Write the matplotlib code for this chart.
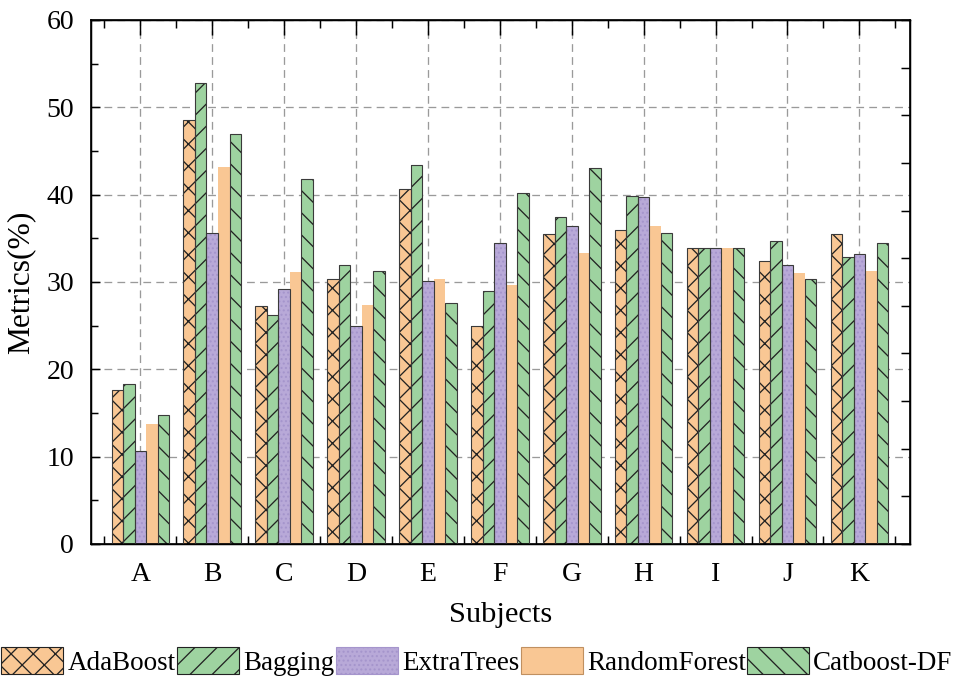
import numpy as np
import matplotlib
matplotlib.use("Agg")
import matplotlib.pyplot as plt
from matplotlib.patches import Patch
from matplotlib.ticker import MultipleLocator

plt.rcParams["font.family"] = ["Liberation Serif", "DejaVu Serif"]
plt.rcParams["hatch.linewidth"] = 0.7

# data
subjects = ["A", "B", "C", "D", "E", "F", "G", "H", "I", "J", "K"]
models = ["AdaBoost", "Bagging", "ExtraTrees", "RandomForest", "Catboost-DF"]
adaboost = [17.6, 48.5, 27.2, 30.3, 40.7, 25.0, 35.5, 36.0, 33.9, 32.4, 35.5]
bagging = [18.3, 52.8, 26.2, 31.9, 43.4, 29.0, 37.4, 39.8, 33.9, 34.7, 32.9]
extratrees = [10.6, 35.6, 29.2, 25.0, 30.1, 34.5, 36.4, 39.7, 33.9, 31.9, 33.2]
randomforest = [13.7, 43.2, 31.1, 27.4, 30.3, 29.6, 33.3, 36.4, 33.9, 31.0, 31.3]
catboost = [14.8, 46.9, 41.8, 31.2, 27.6, 40.2, 43.0, 35.6, 33.9, 30.3, 34.5]
series = [adaboost, bagging, extratrees, randomforest, catboost]

# styles
orange = "#F9C794"
green = "#9ED3A0"
purple = "#B8A9D8"
fills = [orange, green, purple, orange, green]
hatches = ["xx", "//", ".....", "", "\\\\"]
hatch_cols = ["#222222", "#222222", "#A595CC", orange, "#222222"]
outline = [True, True, True, False, True]

fig = plt.figure(figsize=(954 / 133.33, 677 / 133.33), dpi=133.33)
ax = fig.add_axes([0.0951, 0.1965, 0.9536 - 0.0951, 0.9705 - 0.1965])

x = np.arange(1, len(subjects) + 1)
w = 0.16
for i, vals in enumerate(series):
    xi = x + (i - 2) * w
    ax.bar(xi, vals, w, color=fills[i], edgecolor=hatch_cols[i],
           hatch=hatches[i], linewidth=0, zorder=2)
    if outline[i]:
        ax.bar(xi, vals, w, fill=False, edgecolor="#3a3a3a",
               linewidth=0.6, zorder=3)

ax.set_xlim(0.31, 11.7)
ax.set_ylim(0, 60)
ax.set_xticks(x)
ax.set_xticklabels(subjects)
ax.xaxis.set_minor_locator(MultipleLocator(0.5))
ax.set_yticks(range(0, 61, 10))
ax.yaxis.set_minor_locator(MultipleLocator(5))

ax.grid(True, which="major", color="#9a9a9a", linestyle=(0, (6, 4)),
        linewidth=0.7, zorder=0)
ax.set_axisbelow(True)

ax.tick_params(axis="x", which="both", direction="in", top=True, bottom=True,
               width=0.8, labelsize=15, pad=10)
ax.tick_params(axis="x", which="major", length=8)
ax.tick_params(axis="x", which="minor", length=4.5)
ax.tick_params(axis="y", which="both", direction="in", left=True, right=False,
               width=0.8, labelsize=15, pad=9)
ax.tick_params(axis="y", which="major", length=5)
ax.tick_params(axis="y", which="minor", length=4)
for s in ax.spines.values():
    s.set_linewidth(0.9)

# right side ticks (11 intervals, no labels)
ax2 = ax.twinx()
ax2.set_ylim(0, 11)
ax2.set_yticks(range(12))
ax2.tick_params(axis="y", direction="in", length=5, width=0.8, labelright=False)

ax.set_xlabel("Subjects", fontsize=16.5, labelpad=8)
ax.set_ylabel("Metrics(%)", fontsize=17, labelpad=6)

handles = []
for i, m in enumerate(models):
    ec = hatch_cols[i] if hatches[i] else "#c09060"
    handles.append(Patch(facecolor=fills[i], edgecolor=ec, hatch=hatches[i],
                         linewidth=0.6, label=m))
fig.legend(handles=handles, loc="lower center", bbox_to_anchor=(0.5, -0.022),
           ncol=5, frameon=False, fontsize=14.6, handlelength=2.3,
           handleheight=1.2, handletextpad=0.15, columnspacing=0.05,
           borderaxespad=0.2)

fig.savefig("out.png", dpi=133.33)
